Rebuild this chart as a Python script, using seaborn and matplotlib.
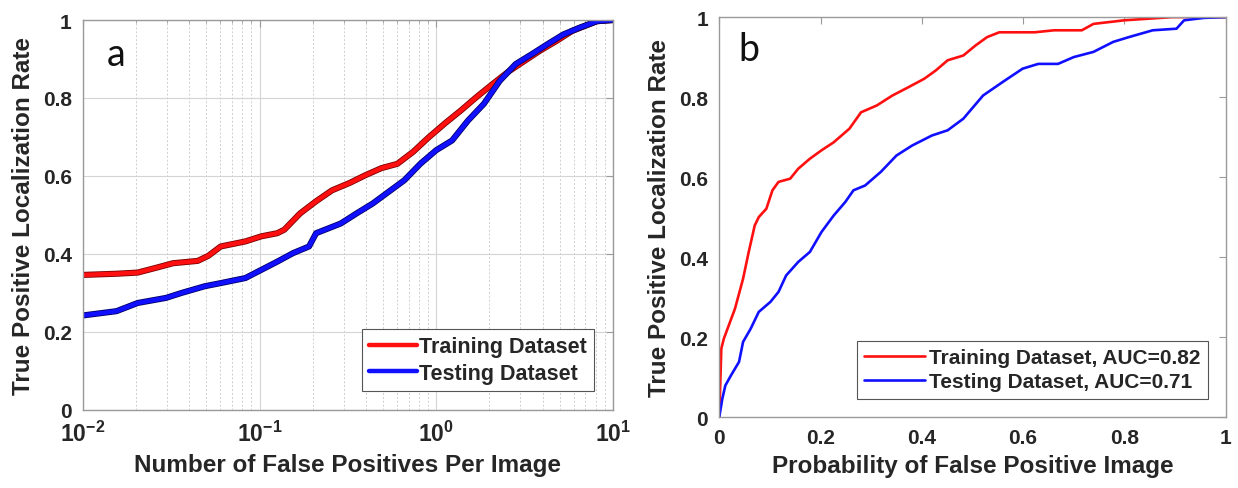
import numpy as np
import pandas as pd
import matplotlib
matplotlib.use("Agg")
import matplotlib.pyplot as plt
import matplotlib.patheffects as pe
from matplotlib.ticker import FixedLocator, LogLocator, NullFormatter
import seaborn as sns

# ---------------- data ----------------
# Panel a: FROC, x = number of false positives per image (log10 of x given)
fp_log_train = [-2.00, -1.81, -1.69, -1.58, -1.49, -1.35, -1.29, -1.22, -1.08, -0.99,
                -0.90, -0.86, -0.77, -0.68, -0.59, -0.49, -0.40, -0.31, -0.22, -0.13,
                -0.04, 0.05, 0.14, 0.23, 0.32, 0.41, 0.50, 0.59, 0.68, 0.77, 0.91, 1.00]
tpr_train_a = [0.346, 0.349, 0.352, 0.365, 0.376, 0.382, 0.395, 0.419, 0.432, 0.445,
               0.453, 0.462, 0.504, 0.535, 0.563, 0.582, 0.602, 0.620, 0.631, 0.662,
               0.700, 0.735, 0.768, 0.803, 0.836, 0.868, 0.895, 0.922, 0.946, 0.972, 0.997, 1.000]
fp_log_test = [-2.00, -1.81, -1.69, -1.53, -1.44, -1.31, -1.22, -1.08, -0.99, -0.90,
               -0.81, -0.72, -0.68, -0.54, -0.45, -0.36, -0.27, -0.18, -0.09, 0.00,
               0.09, 0.18, 0.27, 0.36, 0.45, 0.54, 0.63, 0.72, 0.81, 0.91, 1.00]
tpr_test_a = [0.242, 0.253, 0.274, 0.287, 0.300, 0.317, 0.325, 0.338, 0.359, 0.380,
              0.402, 0.419, 0.453, 0.478, 0.504, 0.529, 0.559, 0.589, 0.631, 0.666,
              0.691, 0.742, 0.785, 0.844, 0.887, 0.912, 0.938, 0.963, 0.980, 0.997, 1.000]

# Panel b: ROC
fpr_train = [0.0, 0.004, 0.009, 0.031, 0.047, 0.058, 0.070, 0.078, 0.093, 0.105, 0.117,
             0.140, 0.156, 0.179, 0.202, 0.226, 0.257, 0.280, 0.311, 0.342, 0.374, 0.405,
             0.428, 0.451, 0.482, 0.506, 0.529, 0.553, 0.623, 0.661, 0.716, 0.739, 0.800,
             0.895, 1.0]
tpr_train_b = [0.0, 0.171, 0.196, 0.271, 0.346, 0.412, 0.479, 0.500, 0.521, 0.567, 0.588,
               0.596, 0.621, 0.646, 0.667, 0.687, 0.721, 0.762, 0.779, 0.804, 0.825, 0.846,
               0.867, 0.892, 0.904, 0.929, 0.950, 0.962, 0.962, 0.967, 0.967, 0.983, 0.992,
               1.0, 1.0]
fpr_test = [0.0, 0.006, 0.012, 0.023, 0.039, 0.047, 0.062, 0.078, 0.101, 0.117, 0.132,
            0.156, 0.179, 0.202, 0.226, 0.249, 0.265, 0.288, 0.319, 0.350, 0.381, 0.420,
            0.451, 0.482, 0.521, 0.560, 0.599, 0.630, 0.669, 0.700, 0.739, 0.778, 0.809,
            0.856, 0.903, 0.918, 0.957, 1.0]
tpr_test_b = [0.0, 0.046, 0.079, 0.104, 0.138, 0.188, 0.221, 0.263, 0.288, 0.313, 0.354,
              0.388, 0.413, 0.463, 0.504, 0.538, 0.567, 0.579, 0.613, 0.654, 0.679, 0.704,
              0.717, 0.746, 0.804, 0.838, 0.871, 0.883, 0.883, 0.900, 0.913, 0.938, 0.950,
              0.967, 0.971, 0.992, 0.998, 1.0]

series_names_a = ["Training Dataset", "Testing Dataset"]
series_names_b = ["Training Dataset, AUC=0.82", "Testing Dataset, AUC=0.71"]
y_ticks = [0, 0.2, 0.4, 0.6, 0.8, 1]
y_tick_labels = ["0", "0.2", "0.4", "0.6", "0.8", "1"]
xa_ticks = [1e-2, 1e-1, 1e0, 1e1]
xa_tick_labels = [r"$\mathbf{10^{-2}}$", r"$\mathbf{10^{-1}}$", r"$\mathbf{10^{0}}$", r"$\mathbf{10^{1}}$"]
xb_ticks = [0, 0.2, 0.4, 0.6, 0.8, 1]
xb_tick_labels = ["0", "0.2", "0.4", "0.6", "0.8", "1"]
x_label_a = "Number of False Positives Per Image"
x_label_b = "Probability of False Positive Image"
y_label = "True Positive Localization Rate"
panel_labels = ["a", "b"]

# ---------------- styling ----------------
sns.set_theme(style="white")
plt.rcParams["font.family"] = ["Liberation Sans", "DejaVu Sans"]
plt.rcParams["mathtext.fontset"] = "custom"
plt.rcParams["mathtext.bf"] = "Liberation Sans:bold"
plt.rcParams["mathtext.rm"] = "Liberation Sans"

RED = "#ff1010"
BLUE = "#1010ff"
SPINE = "#9a9a9a"
TXT = "#262626"

fig = plt.figure(figsize=(12.38, 4.89), dpi=100)
axa = fig.add_axes([0.067, 0.160, 0.428, 0.797])
axb = fig.add_axes([0.581, 0.145, 0.409, 0.818])

# ---------------- panel a ----------------
df_a = pd.concat([
    pd.DataFrame({"fp": 10 ** np.array(fp_log_train), "tpr": tpr_train_a, "set": series_names_a[0]}),
    pd.DataFrame({"fp": 10 ** np.array(fp_log_test), "tpr": tpr_test_a, "set": series_names_a[1]}),
])
sns.lineplot(data=df_a, x="fp", y="tpr", hue="set", palette=[RED, BLUE],
             linewidth=3.2, ax=axa, sort=False, estimator=None)
axa.set_xscale("log")
for ln, dark in zip(axa.get_lines()[:2], ["#7a0000", "#00006a"]):
    ln.set_path_effects([pe.Stroke(linewidth=4.4, foreground=dark), pe.Normal()])
axa.set_xlim(1e-2, 1e1)
axa.set_ylim(0, 1)
axa.xaxis.set_major_locator(FixedLocator(xa_ticks))
axa.set_xticklabels(xa_tick_labels)
axa.xaxis.set_minor_locator(LogLocator(base=10, subs=np.arange(2, 10), numticks=20))
axa.xaxis.set_minor_formatter(NullFormatter())
axa.set_yticks(y_ticks)
axa.set_yticklabels(y_tick_labels)
axa.grid(True, which="major", color="#d4d4d4", linewidth=0.8, linestyle="-")
axa.grid(True, which="minor", axis="x", color="#cfcfcf", linewidth=0.7, linestyle=(0, (2, 2)))
axa.set_axisbelow(True)

# ---------------- panel b ----------------
df_b = pd.concat([
    pd.DataFrame({"fpr": fpr_train, "tpr": tpr_train_b, "set": series_names_b[0]}),
    pd.DataFrame({"fpr": fpr_test, "tpr": tpr_test_b, "set": series_names_b[1]}),
])
sns.lineplot(data=df_b, x="fpr", y="tpr", hue="set", palette=[RED, BLUE],
             linewidth=1.9, ax=axb, sort=False, estimator=None)
axb.set_xlim(0, 1)
axb.set_ylim(0, 1)
axb.set_xticks(xb_ticks)
axb.set_xticklabels(xb_tick_labels)
axb.set_yticks(y_ticks)
axb.set_yticklabels(y_tick_labels)
axb.grid(False)

# ---------------- common axis decoration ----------------
for ax, xl, pl, lab_pos in [(axa, x_label_a, panel_labels[0], (0.063, 0.913)),
                            (axb, x_label_b, panel_labels[1], (0.058, 0.92))]:
    for s in ax.spines.values():
        s.set_visible(True)
        s.set_color(SPINE)
        s.set_linewidth(1.0)
    ax.tick_params(axis="both", which="both", direction="in", top=True, right=True,
                   color=SPINE, labelcolor=TXT, labelsize=15)
    ax.tick_params(axis="both", which="major", length=5, width=0.8, pad=8)
    ax.tick_params(axis="both", which="minor", length=2.5, width=0.6)
    for t in ax.get_xticklabels() + ax.get_yticklabels():
        t.set_fontweight("bold")
    ax.set_xlabel(xl, fontsize=17.5, fontweight="bold", color=TXT, labelpad=5)
    ax.set_ylabel(y_label, fontsize=17.5, fontweight="bold", color=TXT, labelpad=6)
    ax.text(lab_pos[0], lab_pos[1], pl, transform=ax.transAxes, ha="center", va="center",
            fontsize=27, family=["Lato", "DejaVu Sans"], color="#111111")

for t in axa.get_xticklabels():
    t.set_fontsize(16.5)

leg_a = axa.legend(loc="lower right", bbox_to_anchor=(0.985, 0.02), frameon=True,
                   fancybox=False, edgecolor="#555555", handlelength=2.2, handletextpad=0.1,
                   borderpad=0.35, labelspacing=0.25, framealpha=1,
                   prop={"size": 15.5, "weight": "bold"})
leg_a.get_frame().set_linewidth(0.8)
for h in leg_a.get_lines():
    h.set_linewidth(3.2)
for t in leg_a.get_texts():
    t.set_color(TXT)

leg_b = axb.legend(loc="lower right", bbox_to_anchor=(0.985, 0.02), frameon=True,
                   fancybox=False, edgecolor="#555555", handlelength=2.9, handletextpad=0.2,
                   borderpad=0.35, labelspacing=0.25, framealpha=1,
                   prop={"size": 15, "weight": "bold"})
leg_b.get_frame().set_linewidth(0.8)
for h in leg_b.get_lines():
    h.set_linewidth(1.9)
for t in leg_b.get_texts():
    t.set_color(TXT)

fig.savefig("out.png", dpi=100)
